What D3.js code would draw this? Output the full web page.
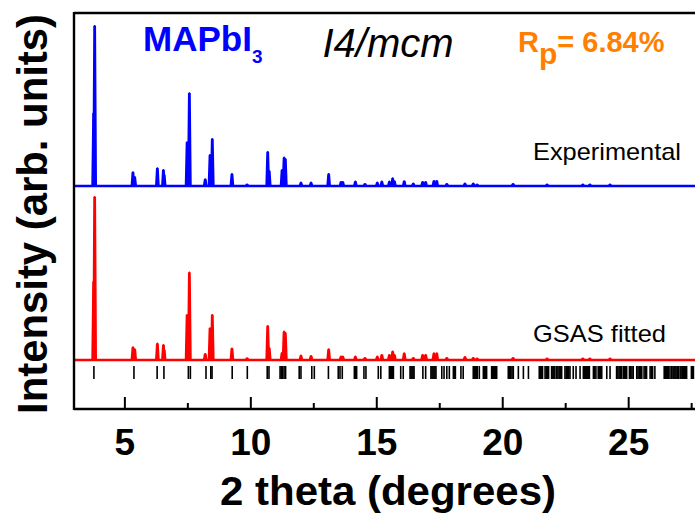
<!DOCTYPE html>
<html><head><meta charset="utf-8">
<script src="https://cdn.jsdelivr.net/npm/d3@7/dist/d3.min.js"></script>
<style>
html,body{margin:0;padding:0;background:#fff;}
svg{display:block;}
text{font-family:"Liberation Sans",Arial,sans-serif;}
</style></head>
<body>
<svg id="chart" width="695" height="513"></svg>
<script>
// ---- data ----
const peakPos = [3.78, 3.82, 5.34, 5.41, 6.31, 6.55, 6.58, 7.49, 7.58, 8.21, 8.40, 8.49, 9.27, 9.87, 10.69, 10.75,
  11.26, 11.34, 11.39, 12.01, 12.41, 13.11, 13.60, 13.67, 14.17, 14.55, 15.04, 15.22, 15.52, 15.65, 15.72,
  16.11, 16.47, 16.84, 16.96, 17.29, 17.40, 17.80, 18.52, 18.85, 19.00, 20.43, 21.78, 23.20, 23.48, 24.28];
const expHeights = [72.7, 160, 13.7, 9, 17.7, 16, 11, 43.7, 92.7, 6.7, 31, 47, 12, 1.3, 34, 15,
  16, 28.3, 27, 3.3, 3.3, 12, 4, 4, 4.3, 2, 3.3, 4.3, 4.3, 7.7, 4.7,
  4.7, 2.3, 4, 4, 5, 5, 2, 2.3, 2.3, 1.5, 2, 1.5, 1.5, 1.5, 1.5];
const fitHeights = [78.3, 163, 12.7, 10.7, 16.3, 15, 10, 45, 87.3, 6, 31.7, 45, 11.3, 1.7, 34, 12,
  7, 28.3, 27, 4.3, 4, 10.7, 3.3, 3.3, 3.3, 2, 3.3, 5, 5, 8.3, 5,
  6.7, 2, 5, 5, 6.7, 6.7, 2, 3, 2, 1.5, 2, 1.5, 1.5, 1.5, 1.5];
const expOffset = 223;
const fitOffset = 49;
const reflections = [3.79, 5.38, 6.30, 6.57, 7.54, 7.62, 8.24, 8.43, 8.48, 9.28, 9.88, 10.67, 10.74,
  11.18, 11.23, 11.28, 11.34, 11.40, 11.94, 12.01, 12.44, 12.54, 13.10, 13.49, 13.56, 13.65,
  14.13, 14.18, 14.22, 14.51, 14.59, 15.08, 15.18, 15.52, 15.56, 15.60, 15.64, 15.68, 15.97, 16.07,
  16.34, 16.38, 16.42, 16.46, 16.50, 16.85, 16.96, 17.17, 17.21, 17.25, 17.29, 17.33, 17.37,
  17.60, 17.69, 17.80, 17.90, 18.06, 18.10, 18.14, 18.36, 18.45, 18.85, 18.89, 18.93, 18.97, 19.01,
  19.09, 19.25, 19.30, 19.34, 19.38, 19.58, 19.62, 19.66, 19.70, 19.74, 19.78,
  20.24, 20.28, 20.34, 20.39, 20.44, 20.64, 20.84, 21.04, 21.47, 21.52, 21.56, 21.60,
  21.70, 21.75, 21.80, 21.84, 21.96, 22.01, 22.05, 22.09, 22.16, 22.21, 22.26, 22.31, 22.36,
  22.49, 22.54, 22.59, 22.64, 22.69, 22.82, 22.93, 23.09, 23.22, 23.26, 23.30, 23.34, 23.38, 23.42, 23.46,
  23.62, 23.67, 23.72, 23.81, 23.86, 23.90, 23.95, 24.15, 24.28, 24.54, 24.59, 24.64, 24.69, 24.74,
  24.81, 24.86, 24.90, 24.94, 25.05, 25.10, 25.15, 25.20, 25.34, 25.39, 25.44, 25.49, 25.54,
  25.63, 25.68, 25.73, 25.87, 25.92, 25.97, 26.06, 26.43, 26.47, 26.51, 26.55, 26.60, 26.66,
  26.73, 26.78, 26.82, 26.86, 26.90, 26.95, 26.99, 27.06, 27.10, 27.15, 27.19, 27.24, 27.28, 27.32,
  27.51, 27.55, 27.59];
const majorTicks = [5, 10, 15, 20, 25];
const minorTicks = [7.5, 12.5, 17.5, 22.5, 27.5];

// ---- drawing ----
const svg = d3.select("#chart");
const W = 695, H = 513;
const x = d3.scaleLinear().domain([3, 28]).range([74, 74 + 25 * 25.19]);
const y = d3.scaleLinear().domain([0, 396]).range([409, 13]);

const plot = svg.append("g");
svg.append("clipPath").attr("id", "clip").append("rect")
  .attr("x", 74).attr("y", 0).attr("width", W - 74).attr("height", 409);
const area = plot.append("g").attr("clip-path", "url(#clip)");

const line = d3.line().x(d => x(d[0])).y(d => y(d[1]));

// baseline plus one spike per peak
function drawSeries(heights, offset, color) {
  const g = area.append("g");
  g.append("path").attr("d", line([[x.domain()[0], offset], [x.domain()[1], offset]]))
    .attr("stroke", color).attr("stroke-width", 2.6).attr("fill", "none");
  peakPos.forEach((p, i) => {
    const hw = 0.05, tw = 0.012;
    const pts = [[p - hw, offset], [p - tw, offset + heights[i]], [p + tw, offset + heights[i]], [p + hw, offset]];
    g.append("path").attr("d", line(pts)).attr("stroke", color).attr("stroke-width", 2.2)
      .attr("fill", color).attr("stroke-linejoin", "bevel");
  });
}
drawSeries(expHeights, expOffset, "#0000ff");
drawSeries(fitHeights, fitOffset, "#ff0000");

// reflection tick marks
area.append("g").selectAll("line").data(reflections).join("line")
  .attr("x1", d => x(d)).attr("x2", d => x(d))
  .attr("y1", 366).attr("y2", 379)
  .attr("stroke", "#000").attr("stroke-width", 1.6);

// axes
const axisG = svg.append("g").attr("transform", "translate(0,409)");
axisG.call(d3.axisBottom(x).tickValues(majorTicks).tickSize(-12).tickPadding(0).tickFormat(d3.format("d")))
  .call(g => g.select(".domain").remove());
axisG.selectAll(".tick line").attr("stroke", "#000").attr("stroke-width", 2);
axisG.selectAll(".tick text").attr("y", 46).attr("dy", null)
  .attr("font-size", 37).attr("font-weight", "bold").attr("fill", "#000")
  .attr("font-family", "Liberation Sans, Arial, sans-serif");
const minorG = svg.append("g").attr("transform", "translate(0,409)");
minorG.call(d3.axisBottom(x).tickValues(minorTicks).tickSize(-6).tickFormat(""))
  .call(g => g.select(".domain").remove());
minorG.selectAll(".tick line").attr("stroke", "#000").attr("stroke-width", 2);

// frame
svg.append("line").attr("x1", 74).attr("x2", W).attr("y1", 409).attr("y2", 409).attr("stroke", "#000").attr("stroke-width", 2.4);
svg.append("line").attr("x1", 74).attr("x2", W).attr("y1", 13).attr("y2", 13).attr("stroke", "#000").attr("stroke-width", 2.4);
svg.append("line").attr("x1", 74).attr("x2", 74).attr("y1", 12).attr("y2", 410).attr("stroke", "#000").attr("stroke-width", 2.4);

// axis titles
svg.append("text").attr("x", 388).attr("y", 505).attr("text-anchor", "middle")
  .attr("font-size", 41).attr("font-weight", "bold").attr("textLength", 336).attr("lengthAdjust", "spacingAndGlyphs")
  .text("2 theta (degrees)");
svg.append("text").attr("transform", "rotate(-90)").attr("x", -214).attr("y", 47).attr("text-anchor", "middle")
  .attr("font-size", 42).attr("font-weight", "bold").attr("textLength", 400).attr("lengthAdjust", "spacingAndGlyphs")
  .text("Intensity (arb. units)");

// annotations
const t1 = svg.append("text").attr("x", 143).attr("y", 51).attr("font-size", 35).attr("font-weight", "bold").attr("fill", "#0000ff");
t1.append("tspan").text("MAPbI");
t1.append("tspan").attr("font-size", 19).attr("dy", 12).text("3");

svg.append("text").attr("x", 388).attr("y", 57).attr("text-anchor", "middle")
  .attr("font-size", 40).attr("font-style", "italic").attr("fill", "#000").text("I4/mcm");

const t2 = svg.append("text").attr("x", 518).attr("y", 52).attr("font-size", 29).attr("font-weight", "bold").attr("fill", "#ff8000");
t2.append("tspan").text("R");
t2.append("tspan").attr("dy", 12).attr("font-size", 30).text("p");
t2.append("tspan").attr("dy", -12).text("= 6.84%");

svg.append("text").attr("x", 533).attr("y", 160).attr("font-size", 24).attr("fill", "#000")
  .attr("textLength", 148).attr("lengthAdjust", "spacingAndGlyphs").text("Experimental");
svg.append("text").attr("x", 533).attr("y", 342).attr("font-size", 24).attr("fill", "#000")
  .attr("textLength", 133).attr("lengthAdjust", "spacingAndGlyphs").text("GSAS fitted");
</script>
</body></html>
